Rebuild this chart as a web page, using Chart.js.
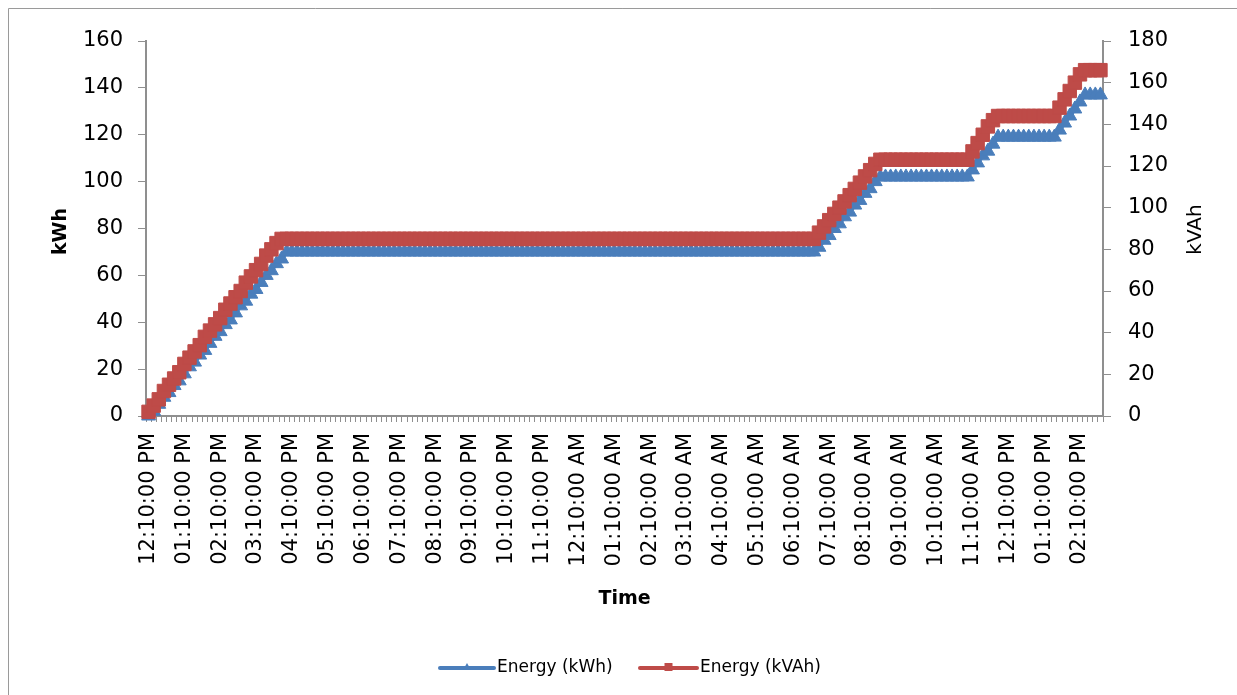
<!DOCTYPE html>
<html>
<head>
<meta charset="utf-8">
<title>Energy (kWh / kVAh)</title>
<script src="https://cdn.jsdelivr.net/npm/chart.js@4/dist/chart.umd.min.js"></script>
<style>
  html, body { margin: 0; padding: 0; background: #ffffff; }
  #wrap { width: 1237px; height: 695px; position: relative; }
  canvas { display: block; }
</style>
</head>
<body>
<div id="wrap"><canvas id="energyChart" width="1237" height="695"></canvas></div>
<script>
// Hourly time labels shown along the category axis
const hourLabels = [
  '12:10:00 PM', '01:10:00 PM', '02:10:00 PM', '03:10:00 PM', '04:10:00 PM', '05:10:00 PM',
  '06:10:00 PM', '07:10:00 PM', '08:10:00 PM', '09:10:00 PM', '10:10:00 PM', '11:10:00 PM',
  '12:10:00 AM', '01:10:00 AM', '02:10:00 AM', '03:10:00 AM', '04:10:00 AM', '05:10:00 AM',
  '06:10:00 AM', '07:10:00 AM', '08:10:00 AM', '09:10:00 AM', '10:10:00 AM', '11:10:00 AM',
  '12:10:00 PM', '01:10:00 PM', '02:10:00 PM'
];
// Readings logged per hour (one category each)
const samplesPerHour = 7;

// Cumulative active energy, kWh (left axis)
const energyKWh = [
  0, 2, 5, 8, 10, 13, 15, 18, 21, 23,
  26, 28, 31, 34, 36, 39, 41, 44, 47, 49,
  52, 54, 57, 60, 62, 65, 67, 70,
  70, 70, 70, 70, 70, 70, 70, 70, 70, 70,
  70, 70, 70, 70, 70, 70, 70, 70, 70, 70,
  70, 70, 70, 70, 70, 70, 70, 70, 70, 70,
  70, 70, 70, 70, 70, 70, 70, 70, 70, 70,
  70, 70, 70, 70, 70, 70, 70, 70, 70, 70,
  70, 70, 70, 70, 70, 70, 70, 70, 70, 70,
  70, 70, 70, 70, 70, 70, 70, 70, 70, 70,
  70, 70, 70, 70, 70, 70, 70, 70, 70, 70,
  70, 70, 70, 70, 70, 70, 70, 70, 70, 70,
  70, 70, 70, 70, 70, 70, 70, 70, 70, 70,
  70, 70, 70,
  72, 75, 77, 80, 82, 85, 87, 90, 92, 95, 97, 100, 102,
  102, 102, 102, 102, 102, 102, 102, 102, 102, 102,
  102, 102, 102, 102, 102, 102, 102,
  105, 108, 111, 113, 116, 119,
  119, 119, 119, 119, 119, 119, 119, 119, 119, 119, 119,
  122, 125, 128, 131, 134, 137,
  137, 137, 137
];

// Cumulative apparent energy, kVAh (right axis)
const energyKVAh = [
  2, 5, 8, 12, 15, 18, 21, 25, 28, 31,
  34, 38, 41, 44, 47, 51, 54, 57, 60, 64,
  67, 70, 73, 77, 80, 83, 85,
  85, 85, 85, 85, 85, 85, 85, 85, 85, 85,
  85, 85, 85, 85, 85, 85, 85, 85, 85, 85,
  85, 85, 85, 85, 85, 85, 85, 85, 85, 85,
  85, 85, 85, 85, 85, 85, 85, 85, 85, 85,
  85, 85, 85, 85, 85, 85, 85, 85, 85, 85,
  85, 85, 85, 85, 85, 85, 85, 85, 85, 85,
  85, 85, 85, 85, 85, 85, 85, 85, 85, 85,
  85, 85, 85, 85, 85, 85, 85, 85, 85, 85,
  85, 85, 85, 85, 85, 85, 85, 85, 85, 85,
  85, 85, 85, 85, 85, 85, 85, 85, 85, 85,
  85, 85, 85, 85,
  88, 91, 94, 97, 100, 103, 106, 109, 112, 115, 118, 121, 123,
  123, 123, 123, 123, 123, 123, 123, 123, 123, 123,
  123, 123, 123, 123, 123, 123, 123,
  127, 131, 135, 139, 142, 144,
  144, 144, 144, 144, 144, 144, 144, 144, 144, 144, 144,
  148, 152, 156, 160, 164, 166,
  166, 166, 166
];

// Axis ranges
const kwhAxis = { min: 0, max: 160, step: 20 };
const kvahAxis = { min: 0, max: 180, step: 20 };

const seriesNames = ['Energy (kWh)', 'Energy (kVAh)'];
const seriesColors = ['#4A7EBB', '#BE4B48'];
const axisTitles = { x: 'Time', left: 'kWh', right: 'kVAh' };

// One category per reading; only the first reading of each hour is labelled
const categories = energyKWh.map((_, i) =>
  i % samplesPerHour === 0 ? hourLabels[i / samplesPerHour] : '');

const FONT = "'DejaVu Sans', Verdana, sans-serif";
const AXIS_GRAY = '#8f8f8f';

Chart.defaults.font.family = FONT;
Chart.defaults.color = '#000000';

// Axis titles, bottom legend and frame
const decorations = {
  id: 'decorations',
  afterDraw(chart) {
    const { ctx, chartArea } = chart;
    const midY = (chartArea.top + chartArea.bottom) / 2;
    const midX = (chartArea.left + chartArea.right) / 2;
    ctx.save();
    ctx.fillStyle = '#000000';
    ctx.textAlign = 'center';
    ctx.textBaseline = 'middle';

    ctx.font = 'bold 19px ' + FONT;
    ctx.fillText(axisTitles.x, midX, 599);

    ctx.save();
    ctx.translate(61, midY + 3);
    ctx.rotate(-Math.PI / 2);
    ctx.fillText(axisTitles.left, 0, 0);
    ctx.restore();

    ctx.font = '20px ' + FONT;
    ctx.save();
    ctx.translate(1196, midY + 1);
    ctx.rotate(-Math.PI / 2);
    ctx.fillText(axisTitles.right, 0, 0);
    ctx.restore();

    // legend
    const legendY = 668;
    const items = [
      { x: 440, w: 54, style: 'triangle' },
      { x: 640, w: 57, style: 'rect' }
    ];
    ctx.font = '17px ' + FONT;
    ctx.textAlign = 'left';
    items.forEach((it, k) => {
      ctx.strokeStyle = seriesColors[k];
      ctx.fillStyle = seriesColors[k];
      ctx.lineWidth = 4;
      ctx.lineCap = 'round';
      ctx.beginPath();
      ctx.moveTo(it.x, legendY);
      ctx.lineTo(it.x + it.w, legendY);
      ctx.stroke();
      const cx = it.x + it.w / 2;
      ctx.beginPath();
      if (it.style === 'rect') {
        ctx.rect(cx - 4, legendY - 5, 8, 8);
      } else {
        ctx.moveTo(cx, legendY - 5);
        ctx.lineTo(cx + 4, legendY + 2);
        ctx.lineTo(cx - 4, legendY + 2);
        ctx.closePath();
      }
      ctx.fill();
      ctx.fillStyle = '#000000';
      ctx.fillText(seriesNames[k], it.x + it.w + 3, legendY);
    });

    // chart frame
    ctx.strokeStyle = '#9a9a9a';
    ctx.lineWidth = 1;
    ctx.beginPath();
    ctx.moveTo(8.5, chart.height);
    ctx.lineTo(8.5, 8.5);
    ctx.lineTo(chart.width, 8.5);
    ctx.stroke();
    ctx.restore();
  }
};

new Chart(document.getElementById('energyChart'), {
  type: 'line',
  data: {
    labels: categories,
    datasets: [
      {
        label: seriesNames[0],
        data: energyKWh,
        yAxisID: 'yKWh',
        borderColor: seriesColors[0],
        backgroundColor: seriesColors[0],
        borderWidth: 4,
        pointStyle: 'triangle',
        pointRadius: 8,
        pointBackgroundColor: seriesColors[0],
        pointBorderColor: seriesColors[0],
        pointBorderWidth: 1,
        tension: 0,
        order: 1,
        clip: false
      },
      {
        label: seriesNames[1],
        data: energyKVAh,
        yAxisID: 'yKVAh',
        borderColor: seriesColors[1],
        backgroundColor: seriesColors[1],
        borderWidth: 4,
        pointStyle: 'rect',
        pointRadius: 9.5,
        pointBackgroundColor: seriesColors[1],
        pointBorderColor: seriesColors[1],
        pointBorderWidth: 1,
        tension: 0,
        order: 0,
        clip: false
      }
    ]
  },
  options: {
    responsive: false,
    animation: false,
    devicePixelRatio: 1,
    layout: { padding: { top: 41, left: 0, right: 0, bottom: 79 } },
    plugins: {
      legend: { display: false },
      tooltip: { enabled: false },
      title: { display: false }
    },
    scales: {
      x: {
        type: 'category',
        offset: true,
        grid: { offset: true, drawOnChartArea: false, drawTicks: true, tickLength: 6, color: AXIS_GRAY, lineWidth: 1 },
        border: { color: AXIS_GRAY, width: 2 },
        ticks: { autoSkip: false, minRotation: 90, maxRotation: 90, padding: 11, font: { size: 21 }, color: '#000000' },
        afterFit(scale) { scale.height = 200; }
      },
      yKWh: {
        position: 'left',
        min: kwhAxis.min,
        max: kwhAxis.max,
        ticks: { stepSize: kwhAxis.step, padding: 15, font: { size: 21 }, color: '#000000' },
        grid: { drawOnChartArea: false, drawTicks: true, tickLength: 8, color: AXIS_GRAY },
        border: { color: AXIS_GRAY, width: 2 },
        afterFit(scale) { scale.width = 146; }
      },
      yKVAh: {
        position: 'right',
        min: kvahAxis.min,
        max: kvahAxis.max,
        ticks: { stepSize: kvahAxis.step, padding: 17, font: { size: 21 }, color: '#000000' },
        grid: { drawOnChartArea: false, drawTicks: true, tickLength: 8, color: AXIS_GRAY },
        border: { color: AXIS_GRAY, width: 2 },
        afterFit(scale) { scale.width = 134; }
      }
    }
  },
  plugins: [decorations]
});
</script>
</body>
</html>
